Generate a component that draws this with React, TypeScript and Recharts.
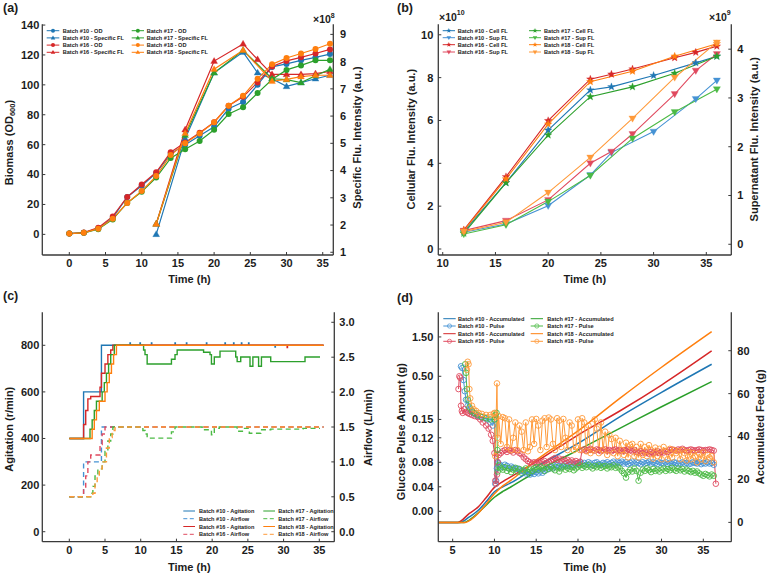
import React from 'react';
import { ComposedChart, Line, XAxis, YAxis } from 'recharts';

const FONT = '"Liberation Sans", Arial, Helvetica, sans-serif';
const INK = '#1c1c1c';
const FRAME = '#3a3a3a';

const BLUE = '#1f77b4';
const RED = '#d62728';
const GREEN = '#2ca02c';
const ORANGE = '#ff7f0e';
const BLUE_L = '#4592d4';
const RED_L = '#e04a5f';
const GREEN_L = '#4cba45';
const ORANGE_L = '#ff9a3a';

// ---------- (a) biomass and specific fluorescence ----------
const odHours = [0, 2, 4, 6, 8, 10, 12, 14, 16, 18, 20, 22, 24, 26, 28, 30, 32, 34, 36];
const odBatch10 = [0.5, 1, 4, 11, 25, 32.5, 41, 54, 60, 66, 72, 84, 88.5, 100, 112, 114, 116.4, 118.4, 120.6];
const odBatch16 = [0.5, 1.2, 4.5, 12, 25, 33.4, 41.5, 55, 61.5, 68, 75, 86, 92, 101.6, 112.3, 116, 118.4, 121, 123.7];
const odBatch17 = [0.5, 1, 3.5, 10, 21, 28.5, 38, 51, 57, 62.5, 70, 80.5, 85, 94.5, 103.6, 110, 113, 116.4, 116.4];
const odBatch18 = [0.5, 1, 3.8, 10.5, 21, 29, 39, 53, 61, 67.5, 75, 86, 92.7, 104, 113.7, 118, 121, 124, 127.5];

const sflHoursLong = [12, 16, 20, 24, 26, 28, 30, 32, 34, 36];
const sflHoursShort = [12, 16, 20, 24, 28, 30, 32, 34, 36];
const sflBatch10 = [1.66, 5.17, 7.59, 8.35, 7.59, 7.37, 7.09, 7.23, 7.37, 7.5];
const sflBatch16 = [2.04, 5.5, 8.02, 8.65, 8.08, 7.53, 7.53, 7.53, 7.56, 7.64];
const sflBatch17 = [2.04, 5.3, 7.59, 8.42, 7.37, 7.34, 7.23, 7.48, 7.72];
const sflBatch18 = [2.04, 5.37, 7.72, 8.42, 7.28, 7.35, 7.45, 7.5, 7.5];

// ---------- (b) cellular and supernatant fluorescence ----------
const flHours10 = [12, 16, 20, 24, 26, 30, 34, 36];
const cellFl10 = [0.81, 3.1, 5.55, 7.42, 7.57, 8.1, 8.69, 9.0];
const supFl10 = [0.246, 0.417, 0.79, 1.42, 1.88, 2.31, 2.98, 3.36];
const flHours16 = [12, 16, 20, 24, 26, 28, 32, 34, 36];
const cellFl16 = [0.89, 3.37, 5.99, 7.93, 8.16, 8.4, 8.93, 9.18, 9.47];
const supFl16 = [0.28, 0.485, 0.91, 1.66, 1.9, 2.26, 3.08, 3.56, 3.9];
const flHours17 = [12, 16, 20, 24, 28, 32, 36];
const cellFl17 = [0.73, 3.09, 5.32, 7.11, 7.57, 8.2, 9.0];
const supFl17 = [0.21, 0.4, 0.875, 1.41, 2.17, 2.71, 3.18];
const flHours18 = [12, 16, 20, 24, 28, 32, 36];
const cellFl18 = [0.86, 3.27, 5.83, 7.81, 8.3, 9.0, 9.58];
const supFl18 = [0.26, 0.45, 1.06, 1.78, 2.58, 3.42, 4.14];

// ---------- (c) agitation (r/min) and airflow (L/min) set-points ----------
const agitation10 = [[0, 400], [2.0, 600], [4.5, 800], [8.5, 810], [8.55, 800], [9.9, 810], [9.95, 800], [11.5, 810], [11.55, 800],
  [14.8, 810], [14.85, 800], [16.4, 810], [16.45, 800], [19.2, 810], [19.25, 800], [21.8, 810], [21.85, 800], [23.0, 810], [23.05, 800],
  [24.1, 810], [24.15, 800], [25.1, 810], [25.15, 800], [28.8, 792], [28.85, 800], [35.6, 800]];
const agitation16 = [[0, 400], [2.0, 460], [2.3, 520], [2.6, 570], [3.0, 580], [4.3, 620], [4.5, 680], [5.0, 720], [5.4, 760], [5.8, 780],
  [6.1, 800], [30.5, 790], [30.55, 800], [35.6, 800]];
const agitation17 = [[0, 400], [2.9, 440], [3.2, 480], [3.5, 520], [3.8, 560], [4.6, 600], [4.9, 640], [5.2, 680], [5.5, 720], [5.8, 760],
  [6.3, 800], [10.4, 780], [10.6, 760], [10.9, 720], [14.3, 740], [14.8, 760], [15.1, 780], [18.8, 770], [19.7, 760], [19.9, 720],
  [20.3, 750], [21.1, 775], [23.3, 750], [23.5, 730], [24.0, 750], [25.3, 710], [25.7, 750], [26.5, 710], [26.9, 750], [28.2, 730],
  [33.0, 750], [35.1, 750]];
const agitation18 = [[0, 400], [3.2, 440], [3.5, 480], [3.8, 520], [4.2, 560], [5.0, 600], [5.3, 640], [5.6, 680], [5.9, 720], [6.2, 760],
  [6.6, 800], [35.6, 800]];

const airflow10 = [[0, 0.5], [2.0, 1.0], [4.5, 1.5], [35.6, 1.5]];
const airflow16 = [[0, 0.5], [2.0, 0.6], [2.3, 0.8], [2.6, 1.0], [3.0, 1.1], [4.3, 1.25], [4.6, 1.4], [5.0, 1.5], [35.6, 1.5]];
const airflow17 = [[0, 0.5], [3.0, 0.55], [3.3, 0.65], [3.6, 0.8], [4.0, 0.9], [4.6, 1.0], [5.0, 1.15], [5.4, 1.3], [5.8, 1.4], [6.1, 1.5],
  [10.3, 1.45], [10.6, 1.4], [10.9, 1.34], [14.3, 1.43], [14.8, 1.5], [18.6, 1.46], [19.9, 1.39], [20.3, 1.48], [21.0, 1.5],
  [23.5, 1.44], [24.4, 1.48], [25.2, 1.41], [26.8, 1.46], [28.2, 1.47], [32.7, 1.48], [35.1, 1.48]];
const airflow18 = [[0, 0.5], [3.3, 0.55], [3.6, 0.7], [3.9, 0.8], [4.2, 0.9], [4.6, 1.0], [5.2, 1.2], [5.6, 1.35], [6.0, 1.45], [6.4, 1.5],
  [35.6, 1.5]];

// ---------- (d) glucose pulses (g) and accumulated feed (g) ----------
const accum10 = [[3.3, 0], [5.85, 0], [7, 2.6], [8, 5.4], [9, 9.6], [10, 14.3], [11, 16.6], [12, 18.5], [15, 25.9], [20, 36.8], [25, 49.2], [30, 60.6], [36, 73.7]];
const accum16 = [[3.3, 0], [5.6, 0], [7, 4.2], [8, 7], [9, 11.5], [10, 16.3], [11, 19], [12, 21.3], [15, 28.3], [20, 40.7], [25, 51.9], [30, 64], [36, 79.9]];
const accum17 = [[3.3, 0], [6.4, 0], [7, 1.1], [8, 4.2], [9, 8], [10, 11.7], [11, 14.4], [12, 16.6], [15, 23.6], [20, 33.7], [25, 43.8], [30, 53.9], [36, 65.6]];
const accum18 = [[3.3, 0], [6.5, 0], [7, 0.8], [8, 4], [9, 8.5], [10, 13.3], [11, 17], [12, 19.7], [15, 29], [20, 42.6], [25, 57.8], [30, 72.3], [36, 88.9]];

// pulse start-up phase as [hour, grams]
const pulseHead10 = [[6.0, 0.66], [6.15, 0.63], [6.3, 0.45], [6.45, 0.33], [6.6, 0.26], [6.8, 0.22], [7.0, 0.2], [7.3, 0.185], [7.6, 0.175],
  [8.0, 0.165], [8.4, 0.16], [8.8, 0.155], [9.2, 0.15], [9.5, 0.145], [9.8, 0.14], [10.0, 0.15], [10.1, 0.045], [10.2, 0.05], [10.3, 0.07], [10.4, 0.08]];
const pulseHead16 = [[5.7, 0.35], [5.8, 0.5], [5.9, 0.48], [6.0, 0.22], [6.1, 0.19], [6.2, 0.18], [6.4, 0.2], [6.6, 0.185], [6.8, 0.18],
  [7.0, 0.175], [7.3, 0.17], [7.6, 0.165], [8.0, 0.16], [8.3, 0.15], [8.6, 0.145], [9.0, 0.14], [9.3, 0.135], [9.6, 0.125], [9.8, 0.115],
  [10.0, 0.095], [10.1, 0.05], [10.2, 0.045], [10.3, 0.06], [10.4, 0.08]];
const pulseHead17 = [[6.5, 0.7], [6.6, 0.55], [6.7, 0.35], [6.8, 0.26], [7.0, 0.21], [7.3, 0.19], [7.6, 0.18], [8.0, 0.17], [8.5, 0.16],
  [9.0, 0.155], [9.5, 0.15], [10.0, 0.15], [10.15, 0.17], [10.25, 0.18], [10.35, 0.1], [10.4, 0.065]];
const pulseHead18 = [[6.7, 0.6], [6.8, 0.75], [6.9, 0.7], [7.0, 0.35], [7.1, 0.27], [7.3, 0.22], [7.5, 0.2], [7.8, 0.19], [8.1, 0.18],
  [8.5, 0.175], [9.0, 0.17], [9.5, 0.17], [9.9, 0.175], [10.0, 0.18], [10.1, 0.09], [10.2, 0.16], [10.3, 0.41], [10.4, 0.12]];

// pulses every 0.25 h from 10.5 h on
const PULSE_START = 10.5;
const PULSE_STEP = 0.25;
const pulseTail10 = [
  0.078, 0.075, 0.072, 0.076, 0.074, 0.07, 0.073, 0.071, 0.069, 0.07,
  0.068, 0.066, 0.065, 0.062, 0.064, 0.06, 0.063, 0.061, 0.064, 0.062, 0.065, 0.063,
  0.066, 0.068, 0.07, 0.072, 0.07, 0.073, 0.075, 0.074, 0.072, 0.075, 0.077, 0.074, 0.076, 0.078, 0.075, 0.077,
  0.078, 0.08, 0.077, 0.079, 0.076, 0.08, 0.078, 0.075, 0.079, 0.08, 0.077, 0.076, 0.079, 0.078, 0.08, 0.077, 0.079, 0.081, 0.078, 0.08,
  0.079, 0.081, 0.078, 0.08, 0.077, 0.079, 0.081, 0.078, 0.08, 0.079, 0.077, 0.08, 0.078, 0.079, 0.081, 0.078, 0.08, 0.079, 0.077, 0.08,
  0.079, 0.078, 0.08, 0.077, 0.079, 0.078, 0.08, 0.079, 0.077, 0.078, 0.08, 0.078, 0.079, 0.077, 0.078, 0.08, 0.079, 0.078, 0.08, 0.077,
  0.079, 0.078, 0.08, 0.078, 0.079, 0.076,
];
const pulseTail16 = [
  0.092, 0.095, 0.098, 0.1, 0.097, 0.1, 0.099, 0.096, 0.1, 0.098, 0.095, 0.093,
  0.088, 0.085, 0.082, 0.08, 0.078, 0.08, 0.079, 0.081, 0.078, 0.08, 0.082, 0.079, 0.081, 0.083,
  0.085, 0.087, 0.084, 0.086, 0.083, 0.085, 0.082, 0.084, 0.081, 0.083, 0.08, 0.082, 0.079, 0.081,
  0.1, 0.101, 0.099, 0.1, 0.102, 0.1, 0.099, 0.101, 0.1, 0.098, 0.1, 0.101, 0.099, 0.1, 0.098, 0.1, 0.101, 0.099, 0.1, 0.098, 0.1, 0.099, 0.101, 0.1, 0.098, 0.1,
  0.097, 0.096, 0.098, 0.095, 0.097, 0.096, 0.094, 0.097, 0.095, 0.096, 0.098, 0.095, 0.097, 0.096, 0.098, 0.097,
  0.1, 0.101, 0.1, 0.099, 0.101, 0.1, 0.102, 0.1, 0.099, 0.1, 0.101, 0.1, 0.099, 0.1, 0.101, 0.1, 0.099, 0.1, 0.1, 0.101, 0.1, 0.099,
];
const pulseEnd16 = [[36.5, 0.045]];
const pulseTail17 = [
  0.075, 0.07, 0.068, 0.072, 0.066, 0.07, 0.064, 0.068, 0.071, 0.065, 0.069, 0.063, 0.067, 0.07, 0.064, 0.068, 0.066, 0.07,
  0.072, 0.068, 0.073, 0.07, 0.066, 0.072, 0.069, 0.074, 0.07, 0.067, 0.072, 0.065, 0.07, 0.073, 0.068, 0.071, 0.069, 0.072, 0.067, 0.07,
  0.073, 0.075, 0.071, 0.074, 0.072, 0.076, 0.073, 0.07, 0.074, 0.072, 0.075, 0.071, 0.073, 0.074, 0.07, 0.073, 0.072, 0.075, 0.071, 0.073,
  0.07, 0.066, 0.062, 0.055, 0.064, 0.068, 0.065, 0.07, 0.066, 0.05, 0.063, 0.068, 0.066, 0.07, 0.067, 0.064, 0.069, 0.066, 0.068, 0.065,
  0.068, 0.07, 0.066, 0.069, 0.067, 0.071, 0.068, 0.066, 0.07, 0.067, 0.069, 0.065, 0.068, 0.066, 0.064, 0.066, 0.063, 0.065, 0.062, 0.06,
  0.058, 0.061, 0.059, 0.057, 0.06, 0.058,
];
const pulseTail18 = [
  0.165, 0.11, 0.16, 0.155, 0.105, 0.15, 0.1, 0.12, 0.145, 0.1,
  0.14, 0.13, 0.1, 0.145, 0.098, 0.105, 0.15, 0.11, 0.152, 0.14, 0.1, 0.148,
  0.155, 0.105, 0.158, 0.15, 0.11, 0.1, 0.155, 0.148, 0.105, 0.152, 0.12, 0.1, 0.145, 0.14, 0.1, 0.105,
  0.15, 0.1, 0.155, 0.145, 0.098, 0.14, 0.095, 0.1, 0.15, 0.135, 0.095, 0.145, 0.1, 0.13, 0.092, 0.125, 0.118, 0.095,
  0.12, 0.09, 0.115, 0.1, 0.092, 0.112, 0.088, 0.108, 0.11, 0.09, 0.105, 0.088, 0.11, 0.092,
  0.105, 0.09, 0.108, 0.1, 0.086, 0.104, 0.09, 0.102, 0.085, 0.105, 0.098, 0.085, 0.102, 0.088, 0.1, 0.095,
  0.098, 0.085, 0.1, 0.095, 0.083, 0.097, 0.085, 0.095, 0.09, 0.08, 0.094, 0.085, 0.096, 0.082, 0.092, 0.088, 0.09, 0.08,
];

const pulseTicks = [0, 0.04, 0.08, 0.12, 0.15, 0.5, 1.5];

// ---------- helpers ----------
type Pt = { x: number; y: number };
const zipPts = (xs: number[], ys: number[]): Pt[] => xs.map((x, i) => ({ x, y: ys[i] }));
const pairPts = (arr: number[][]): Pt[] => arr.map(([x, y]) => ({ x, y }));

// pulse axis: linear up to 0.15 g, logarithmic above
const pulseScale = (v: number) => (v <= 0.15 ? v * 612.5 : 91.875 + 82.5 * Math.log10(v / 0.15));
const pulsePts = (head: number[][], tail: number[], end: number[][] = []): Pt[] => [
  ...head.map(([x, v]) => ({ x, y: pulseScale(v) })),
  ...tail.map((v, i) => ({ x: PULSE_START + i * PULSE_STEP, y: pulseScale(v) })),
  ...end.map(([x, v]) => ({ x, y: pulseScale(v) })),
];
const pulseTickPos = pulseTicks.map(pulseScale);
const pulseTickLabel = (p: number) => {
  const i = pulseTickPos.findIndex((q) => Math.abs(q - p) < 1e-6);
  return i >= 0 ? pulseTicks[i].toFixed(2) : '';
};

const starPath = (cx: number, cy: number, r: number) => {
  let d = '';
  for (let k = 0; k < 10; k++) {
    const rr = k % 2 === 0 ? r : r * 0.42;
    const a = -Math.PI / 2 + (k * Math.PI) / 5;
    d += (k ? 'L' : 'M') + (cx + rr * Math.cos(a)).toFixed(2) + ',' + (cy + rr * Math.sin(a)).toFixed(2);
  }
  return d + 'Z';
};
const triPath = (cx: number, cy: number, r: number, up: boolean) =>
  up
    ? `M${cx},${cy - r}L${cx + r * 0.95},${cy + r * 0.65}L${cx - r * 0.95},${cy + r * 0.65}Z`
    : `M${cx},${cy + r}L${cx + r * 0.95},${cy - r * 0.65}L${cx - r * 0.95},${cy - r * 0.65}Z`;

type MarkerKind = 'circle' | 'up' | 'down' | 'star' | 'ring' | 'none';
const shapeDot = (kind: MarkerKind, color: string, r: number, tag: string) => (props: any) => {
  const { cx, cy, index } = props;
  const key = `${tag}-${index}`;
  if (cx == null || cy == null || Number.isNaN(cx) || Number.isNaN(cy)) return <g key={key} />;
  const d = kind === 'star' ? starPath(cx, cy, r) : triPath(cx, cy, r, kind === 'up');
  return <path key={key} d={d} fill={color} stroke={color} strokeWidth={0.3} />;
};

const tickStyle = { fontSize: 11, fontWeight: 700, fill: INK, fontFamily: FONT };
const axisLine = { stroke: FRAME, strokeWidth: 1.3 };
const tickLine = { stroke: FRAME, strokeWidth: 1 };

const hourTicks = [0, 5, 10, 15, 20, 25, 30, 35];

// ---------- panels ----------
function PanelA() {
  const series = [
    { name: 'od10', data: zipPts(odHours, odBatch10), color: BLUE, kind: 'circle' as MarkerKind, axis: 'L' },
    { name: 'sfl10', data: zipPts(sflHoursLong, sflBatch10), color: BLUE, kind: 'up' as MarkerKind, axis: 'R' },
    { name: 'od16', data: zipPts(odHours, odBatch16), color: RED, kind: 'circle' as MarkerKind, axis: 'L' },
    { name: 'sfl16', data: zipPts(sflHoursLong, sflBatch16), color: RED, kind: 'up' as MarkerKind, axis: 'R' },
    { name: 'od17', data: zipPts(odHours, odBatch17), color: GREEN, kind: 'circle' as MarkerKind, axis: 'L' },
    { name: 'sfl17', data: zipPts(sflHoursShort, sflBatch17), color: GREEN, kind: 'up' as MarkerKind, axis: 'R' },
    { name: 'od18', data: zipPts(odHours, odBatch18), color: ORANGE, kind: 'circle' as MarkerKind, axis: 'L' },
    { name: 'sfl18', data: zipPts(sflHoursShort, sflBatch18), color: ORANGE, kind: 'up' as MarkerKind, axis: 'R' },
  ];
  return (
    <div style={{ position: 'absolute', left: 0, top: 0 }}>
      <ComposedChart width={384} height={280} margin={{ top: 24.3, right: 0, bottom: 0, left: 0 }}>
        <XAxis xAxisId="x" dataKey="x" type="number" domain={[-3.73, 36.46]} ticks={hourTicks} allowDataOverflow
          height={25} tick={tickStyle} tickSize={-3} tickMargin={7} axisLine={axisLine} tickLine={tickLine} interval={0} />
        <XAxis xAxisId="top" orientation="top" dataKey="x" type="number" domain={[-3.73, 36.46]} allowDataOverflow
          height={0} tick={false} tickLine={false} axisLine={axisLine} />
        <YAxis yAxisId="L" type="number" domain={[-13.8, 140.5]} ticks={[0, 20, 40, 60, 80, 100, 120, 140]} allowDataOverflow
          width={42.3} tick={tickStyle} tickSize={-3} tickMargin={6} axisLine={axisLine} tickLine={tickLine} interval={0} />
        <YAxis yAxisId="R" orientation="right" type="number" domain={[0.9, 9.37]} ticks={[1, 2, 3, 4, 5, 6, 7, 8, 9]} allowDataOverflow
          width={50.7} tick={tickStyle} tickSize={-3} tickMargin={9.7} axisLine={axisLine} tickLine={tickLine} interval={0} />
        {series.map((s) => (
          <Line key={s.name} xAxisId="x" yAxisId={s.axis} data={s.data} dataKey="y" type="linear" stroke={s.color}
            strokeWidth={1.2} isAnimationActive={false} activeDot={false}
            dot={s.kind === 'circle' ? { r: 3, fill: s.color, stroke: s.color, strokeWidth: 0 } : shapeDot(s.kind, s.color, 3.6, s.name)} />
        ))}
      </ComposedChart>
    </div>
  );
}

function PanelB() {
  const series = [
    { name: 'cell10', data: zipPts(flHours10, cellFl10), color: BLUE, kind: 'star' as MarkerKind, axis: 'L' },
    { name: 'sup10', data: zipPts(flHours10, supFl10), color: BLUE_L, kind: 'down' as MarkerKind, axis: 'R' },
    { name: 'cell16', data: zipPts(flHours16, cellFl16), color: RED, kind: 'star' as MarkerKind, axis: 'L' },
    { name: 'sup16', data: zipPts(flHours16, supFl16), color: RED_L, kind: 'down' as MarkerKind, axis: 'R' },
    { name: 'cell17', data: zipPts(flHours17, cellFl17), color: GREEN, kind: 'star' as MarkerKind, axis: 'L' },
    { name: 'sup17', data: zipPts(flHours17, supFl17), color: GREEN_L, kind: 'down' as MarkerKind, axis: 'R' },
    { name: 'cell18', data: zipPts(flHours18, cellFl18), color: ORANGE, kind: 'star' as MarkerKind, axis: 'L' },
    { name: 'sup18', data: zipPts(flHours18, supFl18), color: ORANGE_L, kind: 'down' as MarkerKind, axis: 'R' },
  ];
  return (
    <div style={{ position: 'absolute', left: 384, top: 0 }}>
      <ComposedChart width={383} height={280} margin={{ top: 24.3, right: 0, bottom: 0, left: 0 }}>
        <XAxis xAxisId="x" dataKey="x" type="number" domain={[9.58, 37.37]} ticks={[10, 15, 20, 25, 30, 35]} allowDataOverflow
          height={25} tick={tickStyle} tickSize={-3} tickMargin={7} axisLine={axisLine} tickLine={tickLine} interval={0} />
        <XAxis xAxisId="top" orientation="top" dataKey="x" type="number" domain={[9.58, 37.37]} allowDataOverflow
          height={0} tick={false} tickLine={false} axisLine={axisLine} />
        <YAxis yAxisId="L" type="number" domain={[-0.28, 10.49]} ticks={[0, 2, 4, 6, 8, 10]} allowDataOverflow
          width={54.3} tick={tickStyle} tickSize={-3} tickMargin={8} axisLine={axisLine} tickLine={tickLine} interval={0} />
        <YAxis yAxisId="R" orientation="right" type="number" domain={[-0.22, 4.51]} ticks={[0, 1, 2, 3, 4]} allowDataOverflow
          width={35.7} tick={tickStyle} tickSize={-3} tickMargin={9} axisLine={axisLine} tickLine={tickLine} interval={0} />
        {series.map((s) => (
          <Line key={s.name} xAxisId="x" yAxisId={s.axis} data={s.data} dataKey="y" type="linear" stroke={s.color}
            strokeWidth={1.1} isAnimationActive={false} activeDot={false} dot={shapeDot(s.kind, s.color, s.kind === 'star' ? 4 : 3.8, s.name)} />
        ))}
      </ComposedChart>
    </div>
  );
}

function PanelC() {
  const series = [
    { name: 'ag10', data: pairPts(agitation10), color: BLUE, axis: 'L', dash: undefined },
    { name: 'air10', data: pairPts(airflow10), color: BLUE_L, axis: 'R', dash: '5 3.5' },
    { name: 'ag16', data: pairPts(agitation16), color: RED, axis: 'L', dash: undefined },
    { name: 'air16', data: pairPts(airflow16), color: RED_L, axis: 'R', dash: '5 3.5' },
    { name: 'ag17', data: pairPts(agitation17), color: GREEN, axis: 'L', dash: undefined },
    { name: 'air17', data: pairPts(airflow17), color: GREEN_L, axis: 'R', dash: '5 3.5' },
    { name: 'ag18', data: pairPts(agitation18), color: ORANGE, axis: 'L', dash: undefined },
    { name: 'air18', data: pairPts(airflow18), color: ORANGE_L, axis: 'R', dash: '5 3.5' },
  ];
  return (
    <div style={{ position: 'absolute', left: 0, top: 280 }}>
      <ComposedChart width={384} height={296} margin={{ top: 32.3, right: 0, bottom: 0, left: 0 }}>
        <XAxis xAxisId="x" dataKey="x" type="number" domain={[-3.78, 37.1]} ticks={hourTicks} allowDataOverflow
          height={34.3} tick={tickStyle} tickSize={-3} tickMargin={7} axisLine={axisLine} tickLine={tickLine} interval={0} />
        <XAxis xAxisId="top" orientation="top" dataKey="x" type="number" domain={[-3.78, 37.1]} allowDataOverflow
          height={0} tick={false} tickLine={false} axisLine={axisLine} />
        <YAxis yAxisId="L" type="number" domain={[-42.9, 941.6]} ticks={[0, 200, 400, 600, 800]} allowDataOverflow
          width={42.3} tick={tickStyle} tickSize={-3} tickMargin={6} axisLine={axisLine} tickLine={tickLine} interval={0} />
        <YAxis yAxisId="R" orientation="right" type="number" domain={[-0.143, 3.143]} ticks={[0, 0.5, 1, 1.5, 2, 2.5, 3]} allowDataOverflow
          width={49.7} tick={tickStyle} tickSize={-3} tickMargin={8} axisLine={axisLine} tickLine={tickLine} interval={0}
          tickFormatter={(v: number) => v.toFixed(1)} />
        {series.map((s) => (
          <Line key={s.name} xAxisId="x" yAxisId={s.axis} data={s.data} dataKey="y" type="stepAfter" stroke={s.color}
            strokeWidth={1.4} strokeDasharray={s.dash} isAnimationActive={false} activeDot={false} dot={false} />
        ))}
      </ComposedChart>
    </div>
  );
}

function PanelD() {
  const series = [
    { name: 'acc10', data: pairPts(accum10), color: BLUE, axis: 'R', pulse: false },
    { name: 'pul10', data: pulsePts(pulseHead10, pulseTail10), color: BLUE_L, axis: 'L', pulse: true },
    { name: 'acc16', data: pairPts(accum16), color: RED, axis: 'R', pulse: false },
    { name: 'pul16', data: pulsePts(pulseHead16, pulseTail16, pulseEnd16), color: RED_L, axis: 'L', pulse: true },
    { name: 'acc17', data: pairPts(accum17), color: GREEN, axis: 'R', pulse: false },
    { name: 'pul17', data: pulsePts(pulseHead17, pulseTail17), color: GREEN_L, axis: 'L', pulse: true },
    { name: 'acc18', data: pairPts(accum18), color: ORANGE, axis: 'R', pulse: false },
    { name: 'pul18', data: pulsePts(pulseHead18, pulseTail18), color: ORANGE_L, axis: 'L', pulse: true },
  ];
  return (
    <div style={{ position: 'absolute', left: 384, top: 280 }}>
      <ComposedChart width={383} height={296} margin={{ top: 32.3, right: 0, bottom: 0, left: 0 }}>
        <XAxis xAxisId="x" dataKey="x" type="number" domain={[3.28, 38.35]} ticks={[5, 10, 15, 20, 25, 30, 35]} allowDataOverflow
          height={34.3} tick={tickStyle} tickSize={-3} tickMargin={7} axisLine={axisLine} tickLine={tickLine} interval={0} />
        <XAxis xAxisId="top" orientation="top" dataKey="x" type="number" domain={[3.28, 38.35]} allowDataOverflow
          height={0} tick={false} tickLine={false} axisLine={axisLine} />
        <YAxis yAxisId="L" type="number" domain={[-30.4, 199]} ticks={pulseTickPos} allowDataOverflow
          width={54.3} tick={tickStyle} tickSize={-3} tickMargin={8} axisLine={axisLine} tickLine={tickLine} interval={0}
          tickFormatter={pulseTickLabel} />
        <YAxis yAxisId="R" orientation="right" type="number" domain={[-9, 97.9]} ticks={[0, 20, 40, 60, 80]} allowDataOverflow
          width={35.7} tick={tickStyle} tickSize={-3} tickMargin={9} axisLine={axisLine} tickLine={tickLine} interval={0} />
        {series.map((s) => (
          <Line key={s.name} xAxisId="x" yAxisId={s.axis} data={s.data} dataKey="y" type={s.pulse ? 'linear' : 'monotone'}
            stroke={s.color} strokeWidth={s.pulse ? 1 : 1.5} isAnimationActive={false} activeDot={false}
            dot={s.pulse ? { r: 2.8, fill: 'none', stroke: s.color, strokeWidth: 0.9 } : false} />
        ))}
      </ComposedChart>
    </div>
  );
}

// ---------- legends and titles ----------
type LegendItem = { label: string; color: string; marker: MarkerKind; dash?: string };

function LegendMarker({ kind, cx, cy, color }: { kind: MarkerKind; cx: number; cy: number; color: string }) {
  if (kind === 'circle') return <circle cx={cx} cy={cy} r={2} fill={color} />;
  if (kind === 'ring') return <circle cx={cx} cy={cy} r={2.1} fill="none" stroke={color} strokeWidth={0.7} />;
  if (kind === 'up' || kind === 'down') return <path d={triPath(cx, cy, 2.4, kind === 'up')} fill={color} />;
  if (kind === 'star') return <path d={starPath(cx, cy, 2.6)} fill={color} />;
  return null;
}

function LegendBlock({ rows, cols, items }: { rows: number[]; cols: { x1: number; x2: number; tx: number }[]; items: LegendItem[] }) {
  return (
    <g>
      {items.map((it, i) => {
        const c = cols[Math.floor(i / rows.length)];
        const y = rows[i % rows.length];
        return (
          <g key={it.label}>
            <line x1={c.x1} x2={c.x2} y1={y} y2={y} stroke={it.color} strokeWidth={1} strokeDasharray={it.dash} />
            <LegendMarker kind={it.marker} cx={(c.x1 + c.x2) / 2} cy={y} color={it.color} />
            <text x={c.tx} y={y} dominantBaseline="central" fontSize={5.6} fontWeight={700} fill={INK} fontFamily={FONT}>
              {it.label}
            </text>
          </g>
        );
      })}
    </g>
  );
}

const legendA: LegendItem[] = [
  { label: 'Batch #10 - OD', color: BLUE, marker: 'circle' },
  { label: 'Batch #10 - Specific FL', color: BLUE, marker: 'up' },
  { label: 'Batch #16 - OD', color: RED, marker: 'circle' },
  { label: 'Batch #16 - Specific FL', color: RED, marker: 'up' },
  { label: 'Batch #17 - OD', color: GREEN, marker: 'circle' },
  { label: 'Batch #17 - Specific FL', color: GREEN, marker: 'up' },
  { label: 'Batch #18 - OD', color: ORANGE, marker: 'circle' },
  { label: 'Batch #18 - Specific FL', color: ORANGE, marker: 'up' },
];
const legendB: LegendItem[] = [
  { label: 'Batch #10 - Cell FL', color: BLUE, marker: 'star' },
  { label: 'Batch #10 - Sup FL', color: BLUE_L, marker: 'down' },
  { label: 'Batch #16 - Cell FL', color: RED, marker: 'star' },
  { label: 'Batch #16 - Sup FL', color: RED_L, marker: 'down' },
  { label: 'Batch #17 - Cell FL', color: GREEN, marker: 'star' },
  { label: 'Batch #17 - Sup FL', color: GREEN_L, marker: 'down' },
  { label: 'Batch #18 - Cell FL', color: ORANGE, marker: 'star' },
  { label: 'Batch #18 - Sup FL', color: ORANGE_L, marker: 'down' },
];
const legendC: LegendItem[] = [
  { label: 'Batch #10 - Agitation', color: BLUE, marker: 'none' },
  { label: 'Batch #10 - Airflow', color: BLUE_L, marker: 'none', dash: '4 2.5' },
  { label: 'Batch #16 - Agitation', color: RED, marker: 'none' },
  { label: 'Batch #16 - Airflow', color: RED_L, marker: 'none', dash: '4 2.5' },
  { label: 'Batch #17 - Agitation', color: GREEN, marker: 'none' },
  { label: 'Batch #17 - Airflow', color: GREEN_L, marker: 'none', dash: '4 2.5' },
  { label: 'Batch #18 - Agitation', color: ORANGE, marker: 'none' },
  { label: 'Batch #18 - Airflow', color: ORANGE_L, marker: 'none', dash: '4 2.5' },
];
const legendD: LegendItem[] = [
  { label: 'Batch #10 - Accumulated', color: BLUE, marker: 'none' },
  { label: 'Batch #10 - Pulse', color: BLUE_L, marker: 'ring' },
  { label: 'Batch #16 - Accumulated', color: RED, marker: 'none' },
  { label: 'Batch #16 - Pulse', color: RED_L, marker: 'ring' },
  { label: 'Batch #17 - Accumulated', color: GREEN, marker: 'none' },
  { label: 'Batch #17 - Pulse', color: GREEN_L, marker: 'ring' },
  { label: 'Batch #18 - Accumulated', color: ORANGE, marker: 'none' },
  { label: 'Batch #18 - Pulse', color: ORANGE_L, marker: 'ring' },
];

const T = { fontFamily: FONT, fontWeight: 700, fill: INK } as const;

function VTitle({ x, y, children }: { x: number; y: number; children: React.ReactNode }) {
  return (
    <text {...T} fontSize={11} textAnchor="middle" dominantBaseline="central" transform={`translate(${x},${y}) rotate(-90)`}>
      {children}
    </text>
  );
}
function HTitle({ x, y, children }: { x: number; y: number; children: React.ReactNode }) {
  return (
    <text {...T} fontSize={11} x={x} y={y} textAnchor="middle" dominantBaseline="central">
      {children}
    </text>
  );
}
function PanelTag({ x, y, children }: { x: number; y: number; children: React.ReactNode }) {
  return (
    <text {...T} fontSize={12.5} x={x} y={y} dominantBaseline="central">
      {children}
    </text>
  );
}
function Exponent({ x, y, power }: { x: number; y: number; power: string }) {
  return (
    <text {...T} fontSize={10.5} x={x} y={y} dominantBaseline="central">
      ×10<tspan fontSize={7} dy={-4.5}>{power}</tspan>
    </text>
  );
}

function Overlay() {
  return (
    <svg width={767} height={576} style={{ position: 'absolute', left: 0, top: 0, pointerEvents: 'none' }}>
      <PanelTag x={3} y={8}>(a)</PanelTag>
      <PanelTag x={397} y={8}>(b)</PanelTag>
      <PanelTag x={3} y={296}>(c)</PanelTag>
      <PanelTag x={397} y={297.5}>(d)</PanelTag>

      <VTitle x={9} y={142.5}>
        Biomass (OD<tspan fontSize={7.5} dy={2.5}>600</tspan><tspan dy={-2.5}>)</tspan>
      </VTitle>
      <VTitle x={357.2} y={137.5}>Specific Flu. Intensity (a.u.)</VTitle>
      <HTitle x={189.5} y={279}>Time (h)</HTitle>
      <Exponent x={313} y={19.3} power="8" />

      <VTitle x={410.7} y={139.2}>Cellular Flu. Intensity (a.u.)</VTitle>
      <VTitle x={754} y={139.2}>Supernatant Flu. Intensity (a.u.)</VTitle>
      <HTitle x={584.8} y={279}>Time (h)</HTitle>
      <Exponent x={439} y={16.7} power="10" />
      <Exponent x={709} y={16.7} power="9" />

      <VTitle x={9.2} y={429.2}>Agitation (r/min)</VTitle>
      <VTitle x={367.5} y={427.5}>Airflow (L/min)</VTitle>
      <HTitle x={189.3} y={566.7}>Time (h)</HTitle>

      <VTitle x={400.7} y={431.7}>Glucose Pulse Amount (g)</VTitle>
      <VTitle x={759.8} y={426.7}>Accumulated Feed (g)</VTitle>
      <HTitle x={584.8} y={566.7}>Time (h)</HTitle>

      <LegendBlock rows={[30.7, 37.9, 45.1, 52.3]} cols={[{ x1: 46.7, x2: 59.3, tx: 62.7 }, { x1: 131.7, x2: 144, tx: 146.7 }]} items={legendA} />
      <LegendBlock rows={[30.7, 37.7, 44.7, 52]} cols={[{ x1: 442.7, x2: 455, tx: 457.7 }, { x1: 529, x2: 541, tx: 544 }]} items={legendB} />
      <LegendBlock rows={[511, 518.7, 526.5, 534.3]} cols={[{ x1: 183.3, x2: 195, tx: 199 }, { x1: 263.3, x2: 275, tx: 278.3 }]} items={legendC} />
      <LegendBlock rows={[318.7, 326, 333.7, 341.3]} cols={[{ x1: 443.3, x2: 455.7, tx: 458 }, { x1: 530.7, x2: 543, tx: 547.3 }]} items={legendD} />
    </svg>
  );
}

export default function App() {
  return (
    <div style={{ position: 'absolute', left: 0, top: 0, width: 767, height: 576, background: '#fff', overflow: 'hidden' }}>
      <PanelA />
      <PanelB />
      <PanelC />
      <PanelD />
      <Overlay />
    </div>
  );
}
